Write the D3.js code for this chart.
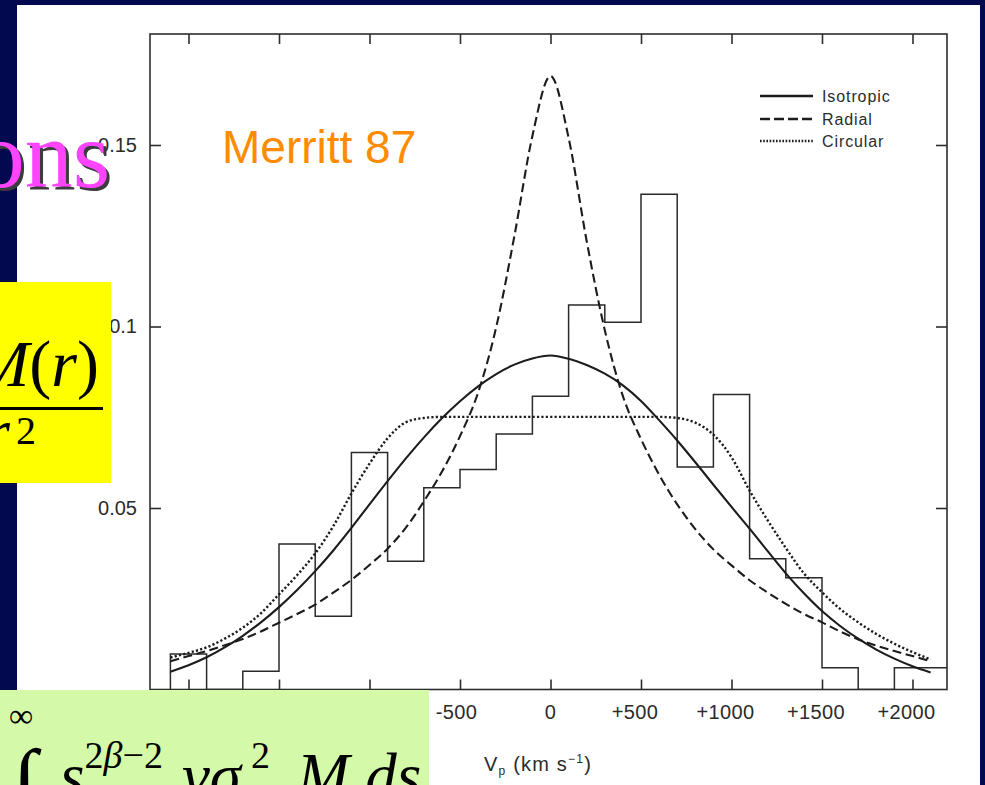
<!DOCTYPE html>
<html><head><meta charset="utf-8">
<script src="https://cdn.jsdelivr.net/npm/d3@7"></script>
<style>html,body{margin:0;padding:0;background:#03094f;overflow:hidden}</style>
</head><body>
<svg id="c" width="985" height="785" xmlns="http://www.w3.org/2000/svg"></svg>
<script>
// ---------- data ----------
const velocity = [-2100,-2000,-1900,-1800,-1700,-1600,-1500,-1400,-1300,-1200,-1100,-1000,-900,-800,-700,-600,-500,-400,-300,-200,-100,0,100,200,300,400,500,600,700,800,900,1000,1100,1200,1300,1400,1500,1600,1700,1800,1900,2000,2100];
const isotropic = [0.0049,0.0067,0.0089,0.0116,0.0148,0.0185,0.0227,0.0274,0.0326,0.0383,0.0445,0.0510,0.0574,0.0636,0.0694,0.0747,0.0794,0.0835,0.0869,0.0895,0.0912,0.0920,0.0911,0.0894,0.0870,0.0838,0.0795,0.0742,0.0686,0.0626,0.0564,0.0503,0.0443,0.0381,0.0320,0.0265,0.0216,0.0175,0.0140,0.0110,0.0085,0.0064,0.0047];
const radial = [0.0078,0.0092,0.0106,0.0122,0.0139,0.0160,0.0184,0.0208,0.0234,0.0267,0.0302,0.0343,0.0388,0.0445,0.0518,0.0600,0.0698,0.0818,0.0998,0.1248,0.1525,0.1690,0.1520,0.1235,0.0990,0.0808,0.0690,0.0592,0.0510,0.0442,0.0386,0.0342,0.0301,0.0267,0.0236,0.0208,0.0185,0.0160,0.0138,0.0121,0.0106,0.0092,0.0078];
const circular = [0.0088,0.0101,0.0116,0.0140,0.0170,0.0210,0.0262,0.0315,0.0375,0.0450,0.0540,0.0622,0.0692,0.0736,0.0748,0.0751,0.0751,0.0751,0.0751,0.0751,0.0751,0.0751,0.0751,0.0751,0.0751,0.0751,0.0751,0.0751,0.0748,0.0735,0.0702,0.0640,0.0548,0.0466,0.0390,0.0320,0.0268,0.0222,0.0185,0.0153,0.0126,0.0103,0.0083];
const binStarts = [-2100,-1900,-1700,-1500,-1300,-1100,-900,-700,-500,-300,-100,100,300,500,700,900,1100,1300,1500,1700,1900,2100];
const binValues = [0.0098,0,0.0050,0.0401,0.0202,0.0653,0.0353,0.0556,0.0606,0.0704,0.0808,0.1059,0.1012,0.1364,0.0613,0.0813,0.0360,0.0308,0.0060,0,0.0060,0.0060];
const binWidth = 200;
const xTicks = [-2000,-1500,-1000,-500,0,500,1000,1500,2000];
const xTickLabels = ["-2000","-1500","-1000","-500","0","+500","+1000","+1500","+2000"];
const yTicks = [0.05,0.1,0.15];
const yTickLabels = ["0.05","0.1","0.15"];
const legendNames = ["Isotropic","Radial","Circular"];
const seriesList = [isotropic, radial, circular];

// ---------- layout ----------
const svg = d3.select("#c");
const sans = "'Liberation Sans', Arial, Helvetica, sans-serif";
const serif = "'Liberation Serif', 'Times New Roman', Times, serif";
const frame = {left:150, right:947, top:34, bottom:689.5};
const x = d3.scaleLinear().domain([-2000,2000]).range([188.5,912.5]);
const y = d3.scaleLinear().domain([0,0.15]).range([689.5,145]);
const ink = "#1c1c1c";
const styles = [
  {dash:null, w:2.1},
  {dash:"9,4.5", w:2.1},
  {dash:"2.2,2.2", w:2.4}
];

// slide background
svg.append("rect").attr("x",0).attr("y",0).attr("width",985).attr("height",785).attr("fill","#03094f");
svg.append("rect").attr("x",17).attr("y",5).attr("width",963).attr("height",780).attr("fill","#ffffff");

// clip
svg.append("defs").append("clipPath").attr("id","plotclip").append("rect")
  .attr("x",frame.left).attr("y",frame.top).attr("width",frame.right-frame.left).attr("height",frame.bottom-frame.top);

const plot = svg.append("g");

// histogram (step outline)
const histPts = [[x(binStarts[0]), y(0)]];
binStarts.forEach((b,i)=>{
  histPts.push([x(b), y(binValues[i])]);
  histPts.push([x(b+binWidth), y(binValues[i])]);
});
histPts.push([x(binStarts[binStarts.length-1]+binWidth), y(0)]);
plot.append("path").attr("clip-path","url(#plotclip)")
  .attr("d", d3.line()(histPts))
  .attr("fill","none").attr("stroke","#2a2a2a").attr("stroke-width",1.5);

// curves
const line = d3.line().x((d,i)=>x(velocity[i])).y(d=>y(d)).curve(d3.curveMonotoneX);
seriesList.forEach((s,k)=>{
  plot.append("path").attr("d", line(s)).attr("fill","none")
    .attr("stroke", ink).attr("stroke-width", styles[k].w)
    .attr("stroke-dasharray", styles[k].dash);
});

// frame
plot.append("rect").attr("x",frame.left).attr("y",frame.top)
  .attr("width",frame.right-frame.left).attr("height",frame.bottom-frame.top)
  .attr("fill","none").attr("stroke","#2e2e2e").attr("stroke-width",1.6);

// axes ticks
const tickStyle = g => { g.select(".domain").remove(); g.selectAll("line").attr("stroke","#2e2e2e").attr("stroke-width",1.6); };
plot.append("g").attr("transform",`translate(0,${frame.bottom})`)
  .call(d3.axisBottom(x).tickValues(xTicks).tickSize(-10).tickFormat("")).call(tickStyle);
plot.append("g").attr("transform",`translate(0,${frame.top})`)
  .call(d3.axisTop(x).tickValues(xTicks).tickSize(-10).tickFormat("")).call(tickStyle);
const yl = plot.append("g").attr("transform",`translate(${frame.left},0)`)
  .call(d3.axisLeft(y).tickValues(yTicks).tickSize(-11).tickPadding(13).tickFormat((d,i)=>yTickLabels[i]))
  .call(tickStyle);
yl.selectAll("text").attr("font-family",sans).attr("font-size",20).attr("fill","#2b2b2b");
plot.append("g").attr("transform",`translate(${frame.right},0)`)
  .call(d3.axisRight(y).tickValues(yTicks).tickSize(-11).tickFormat("")).call(tickStyle);

// x tick labels: digits centred on the tick, sign hanging left
const xl = plot.append("g").attr("font-family",sans).attr("font-size",20).attr("fill","#2b2b2b").attr("letter-spacing","0.4");
xTicks.forEach((v,i)=>{
  const lab = xTickLabels[i];
  const digits = lab.replace(/^[+-]/,"");
  const t = xl.append("text").attr("y",719).text(digits);
  const w = t.node().getComputedTextLength();
  t.text(lab).attr("text-anchor","end").attr("x", x(v) + w/2);
});

// axis title
const at = plot.append("text").attr("x",484).attr("y",771).attr("font-family",sans).attr("font-size",20).attr("letter-spacing","1.2").attr("fill","#2b2b2b");
at.append("tspan").text("V");
at.append("tspan").attr("font-size",12).attr("dy",4).text("p");
at.append("tspan").attr("dy",-4).text(" (km s");
at.append("tspan").attr("font-size",12).attr("dy",-8).text("−1");
at.append("tspan").attr("dy",8).text(")");

// legend
const lg = plot.append("g");
legendNames.forEach((n,k)=>{
  const ly = [96,119,141][k];
  lg.append("line").attr("x1",760).attr("x2",813).attr("y1",ly).attr("y2",ly)
    .attr("stroke",ink).attr("stroke-width",2.4).attr("stroke-dasharray", k===1 ? "10,4" : (k===2 ? "1.6,1.6" : null));
  lg.append("text").attr("x",822).attr("y",ly).attr("dy","0.35em")
    .attr("font-family",sans).attr("font-size",16).attr("letter-spacing","0.9").attr("fill","#2b2b2b").text(n);
});

// ---------- slide overlays ----------
svg.append("text").attr("x",222).attr("y",163).attr("font-family",sans).attr("font-size",46)
  .attr("fill","#ff8c00").text("Merritt 87");

svg.append("text").attr("x",113).attr("y",190).attr("text-anchor","end").attr("font-family",serif)
  .attr("font-size",96).attr("fill","#3c3c3c").text("ons");
svg.append("text").attr("x",110).attr("y",187).attr("text-anchor","end").attr("font-family",serif)
  .attr("font-size",96).attr("fill","#ff44ff").text("ons");

// yellow formula box
svg.append("rect").attr("x",0).attr("y",282).attr("width",111).attr("height",201).attr("fill","#ffff00");
const num = svg.append("text").attr("x",99).attr("y",386).attr("text-anchor","end").attr("font-family",serif).attr("font-size",66).attr("fill","#000");
num.append("tspan").attr("font-style","italic").text("M");
num.append("tspan").text("(");
num.append("tspan").attr("font-style","italic").text("r");
num.append("tspan").text(")");
svg.append("rect").attr("x",0).attr("y",407).attr("width",103).attr("height",3).attr("fill","#000");
svg.append("text").attr("x",10).attr("y",454).attr("text-anchor","end").attr("font-family",serif).attr("font-size",66).attr("font-style","italic").text("r");
svg.append("text").attr("x",16).attr("y",444).attr("font-family",serif).attr("font-size",40).text("2");

// green formula box
svg.append("rect").attr("x",0).attr("y",690).attr("width",429).attr("height",95).attr("fill","#d4f9a8");
svg.append("text").attr("x",9).attr("y",727).attr("font-family",serif).attr("font-size",34).text("∞");
svg.append("text").attr("x",12).attr("y",812).attr("font-family",serif).attr("font-size",90).text("∫");
const f = svg.append("text").attr("x",60).attr("y",797).attr("font-family",serif).attr("font-size",63).attr("fill","#000");
f.append("tspan").attr("font-style","italic").text("s");
f.append("tspan").attr("font-size",38).attr("dy",-29).text("2");
f.append("tspan").attr("font-size",38).attr("font-style","italic").text("β");
f.append("tspan").attr("font-size",38).text("−2");
f.append("tspan").attr("dy",29).attr("dx",19).attr("font-style","italic").text("νσ");
f.append("tspan").attr("font-size",38).attr("dy",-29).attr("dx",10).text("2");
f.append("tspan").attr("dy",29).attr("dx",27).attr("font-style","italic").text("M ds");
</script>
</body></html>
